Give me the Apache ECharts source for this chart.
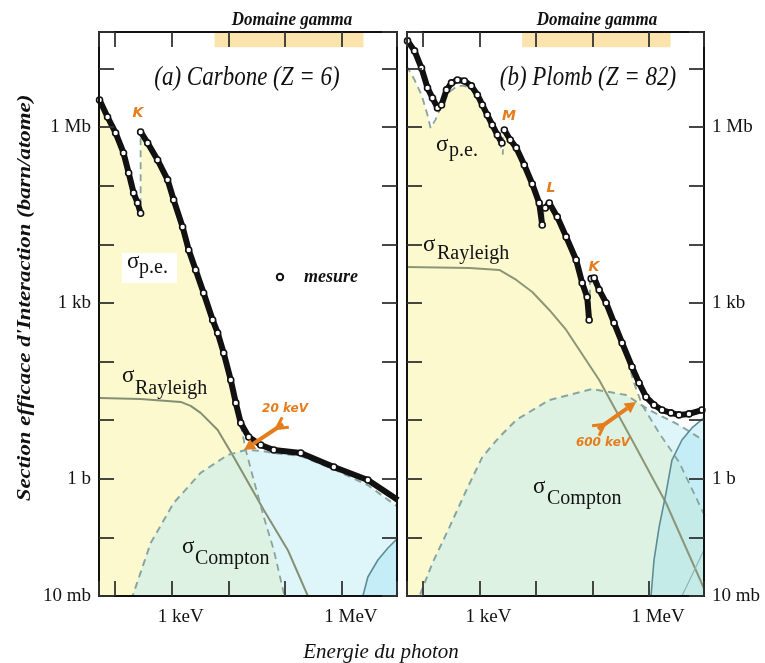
<!DOCTYPE html>
<html>
<head>
<meta charset="utf-8" />
<title>Sections efficaces photon - carbone / plomb</title>
<style>
  html, body { margin: 0; padding: 0; background: #fff; }
  #chartBox { width: 765px; height: 663px; }
</style>
</head>
<body>
<div id="chartBox"></div>
<script src="https://cdn.jsdelivr.net/npm/echarts@6.0.0/dist/echarts.min.js"></script>
<script>
// energie en eV, section efficace en barn/atome
var xRange = [52.5, 9.33e6];
var yRange = [0.01, 4.2e7];
var gammaDomain = [5700, 2.4e6];
var xTickNames = {3: '1 keV', 6: '1 MeV'};
var yTickNames = {'-2': '10 mb', 0: '1 b', 3: '1 kb', 6: '1 Mb'};

// (a) carbone
var cMesureBas = [[53.7, 2.91e6], [74.3, 1.49e6], [103, 7.96e5], [142, 3.63e5], [175, 1.65e5], [214, 7.5e4], [251, 5.1e4], [284, 3.4e4]];
var cMesureHaut = [[284, 8.28e5], [378, 5.37e5], [566, 2.75e5], [850, 1.26e5], [1085, 5.73e4], [1560, 1.98e4], [2000, 8.0e3],
  [2650, 3.66e3], [3660, 1.48e3], [5280, 513], [6470, 308], [8260, 140], [11000, 48.5], [13500, 19.7], [16500, 8.95],
  [22800, 5.16], [37100, 3.78], [63000, 3.10], [188000, 2.75], [720000, 1.59], [2.86e6, 0.955], [9.68e6, 0.435]];
var cPhoto = [[53.7, 2.91e6], [74.3, 1.49e6], [103, 7.96e5], [142, 3.63e5], [175, 1.65e5], [214, 7.5e4], [251, 5.1e4], [284, 3.2e4],
  [284, 8.28e5], [378, 5.37e5], [566, 2.75e5], [850, 1.26e5], [1085, 5.73e4], [1560, 1.98e4], [2000, 8.0e3], [2650, 3.66e3],
  [3660, 1.48e3], [5280, 513], [6470, 308], [8260, 140], [11000, 48.5], [13500, 19.7], [16500, 8.3], [20200, 3.1],
  [27900, 0.955], [42000, 0.223], [63000, 0.061], [94400, 0.0112], [107000, 0.007]];
var cCompton = [[175, 0.0054], [205, 0.01], [427, 0.080], [1085, 0.386], [3240, 1.26], [9730, 2.55], [20200, 3.10],
  [37100, 3.0], [63000, 2.75], [188000, 2.45], [720000, 1.45], [2.86e6, 0.78], [9.68e6, 0.33]];
var cRayleigh = [[53.7, 23.9], [284, 23.0], [1440, 20.5], [2160, 17.5], [3240, 13.3], [6470, 6.81], [12400, 2.36],
  [42000, 0.294], [111000, 0.061], [251000, 0.01], [282000, 0.0076]];
var cPaire = [[2.15e6, 0.007], [2.34e6, 0.01], [2.86e6, 0.0211], [4.30e6, 0.0411], [6.46e6, 0.0659], [9.68e6, 0.0977]];

// (b) plomb
var pbMesure1 = [[53.7, 2.96e7], [71.4, 2.0e7], [94.8, 1.02e7], [121, 4.67e6], [148, 3.15e6], [182, 2.13e6], [214, 2.39e6],
  [262, 4.32e6], [321, 5.68e6], [409, 6.38e6], [543, 6.14e6], [722, 5.05e6], [922, 3.54e6], [1130, 2.39e6], [1380, 1.61e6],
  [1690, 1.09e6], [2080, 7.36e5], [2500, 5.37e5]];
var pbMesure2 = [[2760, 8.95e5], [3520, 6.05e5], [4500, 4.42e5], [6220, 2.26e5], [8610, 1.07e5], [11400, 5.08e4], [12900, 2.14e4]];
var pbMesure3 = [[14600, 4.18e4], [17200, 5.08e4], [23800, 2.94e4], [34200, 1.34e4], [51400, 5420], [65600, 2190],
  [80300, 1260], [87100, 513]];
var pbMesure4 = [[94500, 2600], [107000, 2670], [131000, 1670], [174000, 1000], [240000, 456], [333000, 208], [499000, 80.9],
  [664000, 43.2], [881000, 24.9], [1.22e6, 18.2], [1.69e6, 14.9], [2.43e6, 13.3], [3.37e6, 12.3], [5.06e6, 12.8], [8.57e6, 14.9]];
var pbPhoto = [[51.6, 1.11e7], [71.4, 6.38e6], [94.8, 3.54e6], [121, 1.61e6], [137, 9.68e5], [167, 1.33e6], [214, 2.39e6],
  [296, 3.99e6], [409, 5.05e6], [543, 5.05e6], [722, 4.49e6], [922, 3.27e6], [1220, 2.13e6], [1690, 1.09e6], [2250, 6.05e5],
  [2600, 3.4e5], [2600, 8.9e5], [3520, 6.0e5], [4500, 4.4e5], [6220, 2.2e5], [8610, 1.05e5], [11400, 5.0e4], [13500, 1.9e4],
  [13500, 4.1e4], [17200, 5.0e4], [23800, 2.9e4], [34200, 1.3e4], [51400, 5300], [65600, 2150], [80300, 1230], [90000, 480],
  [90000, 2600], [131000, 1650], [174000, 980], [240000, 450], [333000, 205], [392000, 130], [542000, 43], [750000, 18.2],
  [1.5e6, 6.05], [3.37e6, 1.94], [8.93e6, 0.271], [1.05e7, 0.198]];
var pbCompton = [[77.4, 0.0068], [87.5, 0.01], [148, 0.0366], [296, 0.150], [590, 0.644], [1130, 2.36], [2250, 5.16],
  [4500, 10.1], [17200, 22.1], [98400, 34.0], [392000, 26.9], [1e6, 14.9], [3.37e6, 8.28], [8.93e6, 4.59]];
var pbRayleigh = [[51.6, 4110], [667, 3950], [2250, 3660], [4500, 2470], [8610, 1540], [17200, 760], [34200, 346],
  [131000, 48.5], [499000, 4.59], [1.99e6, 0.386], [7.59e6, 0.0211], [1.05e7, 0.0104]];
var pbPaire = [[1.06e6, 0.0068], [1.08e6, 0.01], [1.22e6, 0.0411], [1.50e6, 0.150], [1.99e6, 0.573], [2.53e6, 2.09],
  [3.80e6, 4.59], [5.71e6, 7.36], [9.29e6, 10.9]];
var pbPaireElec = [[3.66e6, 0.0068], [3.80e6, 0.01], [6.71e6, 0.0313], [9.29e6, 0.061]];

var serif = '"Liberation Serif", "DejaVu Serif", serif';
var orange = '#e57d1c';

function logLabel(names) {
  return function (v) {
    var l = Math.log10(v), k = Math.round(l);
    if (Math.abs(l - k) > 0.01) return '';
    return names[k] || '';
  };
}

function makeX(grid, pos, showLabel) {
  return {
    type: 'log', gridIndex: grid, position: pos, min: xRange[0], max: xRange[1], z: 10,
    axisLine: { show: true, onZero: false, lineStyle: { color: '#111', width: 2 } },
    axisTick: { show: true, inside: true, length: 15, lineStyle: { color: '#333', width: 1.8 } },
    axisLabel: { show: showLabel, formatter: logLabel(xTickNames), color: '#111', fontFamily: serif, fontSize: 19,
      margin: 12, padding: [0, 0, 0, 18] },
    splitLine: { show: false }
  };
}

function makeY(grid, pos, showLabel) {
  return {
    type: 'log', gridIndex: grid, position: pos, min: yRange[0], max: yRange[1], z: 10,
    axisLine: { show: true, onZero: false, lineStyle: { color: '#111', width: 2 } },
    axisTick: { show: true, inside: true, length: 15, lineStyle: { color: '#333', width: 1.8 } },
    axisLabel: { show: showLabel, formatter: logLabel(yTickNames), color: '#111', fontFamily: serif, fontSize: 19, margin: 8 },
    splitLine: { show: false }
  };
}

function fill(data, ax, color, band) {
  var s = {
    type: 'line', xAxisIndex: ax, yAxisIndex: ax, data: data, symbol: 'none', silent: true, z: 1,
    lineStyle: { width: 0, opacity: 0 },
    areaStyle: { color: color, opacity: 1, origin: 'start' }
  };
  if (band) {
    s.markArea = { silent: true, itemStyle: { color: '#fbe3ad' },
      data: [[{ xAxis: gammaDomain[0], yAxis: 2.3e7 }, { xAxis: gammaDomain[1], yAxis: yRange[1] }]] };
  }
  return s;
}

function curve(data, ax, color, width, type) {
  return {
    type: 'line', xAxisIndex: ax, yAxisIndex: ax, data: data, symbol: 'none', silent: true, z: 3,
    lineStyle: { color: color, width: width, type: type || 'solid' }
  };
}

function mesure(data, ax) {
  return {
    type: 'line', xAxisIndex: ax, yAxisIndex: ax, data: data, symbol: 'circle', symbolSize: 6, showSymbol: true, z: 5,
    itemStyle: { color: '#fff', borderColor: '#111', borderWidth: 1.6 },
    lineStyle: { color: '#111', width: 6 }
  };
}

function txt(x, y, s, font, extra) {
  var el = { type: 'text', x: x, y: y, z: 100,
    style: { text: s, font: font, fill: '#111', align: 'left', verticalAlign: 'middle' } };
  for (var k in extra) {
    if (k === 'style') { for (var j in extra.style) el.style[j] = extra.style[j]; }
    else el[k] = extra[k];
  }
  return el;
}

function sigma(x, y, sub, x2, y2) {
  return [
    txt(x, y, 'σ', '23px ' + serif),
    txt(x2, y2, sub, '20px ' + serif)
  ];
}

function arrow(t, h) {
  var dx = h[0] - t[0], dy = h[1] - t[1], len = Math.sqrt(dx * dx + dy * dy);
  var ux = dx / len, uy = dy / len, px = -uy, py = ux;
  var bx = h[0] - 11 * ux, by = h[1] - 11 * uy;
  return [
    { type: 'polyline', z: 100, shape: { points: [t, [bx, by]] }, style: { stroke: orange, lineWidth: 4 } },
    { type: 'polygon', z: 100, shape: { points: [h, [bx + 6 * px, by + 6 * py], [bx - 6 * px, by - 6 * py]] }, style: { fill: orange } },
    { type: 'polyline', z: 100, shape: { points: [[t[0] - 3 * ux + 6 * px, t[1] - 3 * uy + 6 * py], [t[0] + 8 * ux, t[1] + 8 * uy],
      [t[0] - 3 * ux - 6 * px, t[1] - 3 * uy - 6 * py]] }, style: { stroke: orange, lineWidth: 3, fill: null } }
  ];
}

var chart = echarts.init(document.getElementById('chartBox'));

var titleFont = 'italic 23px ' + serif;
var gammaFont = 'italic bold 17px ' + serif;
var edgeFont = 'italic bold 14px "DejaVu Sans", sans-serif';
var keVFont = 'italic bold 12px "DejaVu Sans", sans-serif';

var graphics = [
  { type: 'rect', z: 99, shape: { x: 122, y: 253, width: 55, height: 30 }, style: { fill: '#fff' } },
  txt(292, 20, 'Domaine gamma', gammaFont, { style: { align: 'center' }, scaleY: 1.1 }),
  txt(597, 20, 'Domaine gamma', gammaFont, { style: { align: 'center' }, scaleY: 1.1 }),
  txt(247, 78, '(a) Carbone (Z = 6)', titleFont, { style: { align: 'center' }, scaleY: 1.15 }),
  txt(588, 78, '(b) Plomb (Z = 82)', titleFont, { style: { align: 'center' }, scaleY: 1.15 }),
  { type: 'circle', z: 100, shape: { cx: 280, cy: 277, r: 3.2 }, style: { fill: '#fff', stroke: '#111', lineWidth: 2 } },
  txt(304, 277, 'mesure', 'italic bold 18px ' + serif),
  txt(138, 113, 'K', edgeFont, { style: { align: 'center', fill: orange } }),
  txt(509, 116, 'M', edgeFont, { style: { align: 'center', fill: orange } }),
  txt(551, 188, 'L', edgeFont, { style: { align: 'center', fill: orange } }),
  txt(594, 267, 'K', edgeFont, { style: { align: 'center', fill: orange } }),
  txt(285, 409, '20 keV', keVFont, { style: { align: 'center', fill: orange } }),
  txt(603, 443, '600 keV', keVFont, { style: { align: 'center', fill: orange } }),
  txt(25, 298, "Section efficace d'Interaction (barn/atome)", 'italic bold 18px ' + serif,
    { style: { align: 'center' }, rotation: Math.PI / 2, scaleX: 1.27 }),
  txt(381, 652, 'Energie du photon', 'italic 21px ' + serif, { style: { align: 'center' } })
];
graphics = graphics
  .concat(sigma(127, 262, 'p.e.', 139, 268))
  .concat(sigma(122, 376, 'Rayleigh', 135, 389))
  .concat(sigma(182, 547, 'Compton', 195, 559))
  .concat(sigma(436, 145, 'p.e.', 449, 151))
  .concat(sigma(423, 245, 'Rayleigh', 437, 254))
  .concat(sigma(533, 487, 'Compton', 547, 499))
  .concat(arrow([283, 424], [244, 450]))
  .concat(arrow([598, 429], [636, 402]));

var option = {
  animation: false,
  backgroundColor: '#fff',
  grid: [
    { left: 99, top: 32, width: 298, height: 564 },
    { left: 407, top: 32, width: 297, height: 564 }
  ],
  xAxis: [makeX(0, 'bottom', true), makeX(0, 'top', false), makeX(1, 'bottom', true), makeX(1, 'top', false)],
  yAxis: [makeY(0, 'left', true), makeY(0, 'right', false), makeY(1, 'right', true), makeY(1, 'left', false)],
  series: [
    fill(cPhoto, 0, '#fcf9cf', true),
    fill(cCompton, 0, 'rgba(190,236,246,0.5)'),
    fill(cPaire, 0, 'rgba(160,225,243,0.4)'),
    curve(cRayleigh, 0, '#858f72', 2),
    curve(cCompton, 0, '#87a5a2', 2, [7, 5]),
    curve(cPhoto, 0, '#8aa39c', 1.8, [7, 5]),
    curve(cPaire, 0, '#5d8c95', 1.6),
    mesure(cMesureBas, 0),
    mesure(cMesureHaut, 0),

    fill(pbPhoto, 2, '#fcf9cf', true),
    fill(pbCompton, 2, 'rgba(190,236,246,0.5)'),
    fill(pbPaire, 2, 'rgba(160,225,243,0.4)'),
    curve(pbRayleigh, 2, '#8d9577', 2),
    curve(pbCompton, 2, '#87a5a2', 2, [7, 5]),
    curve(pbPhoto, 2, '#8aa39c', 1.8, [7, 5]),
    curve(pbPaire, 2, '#5d8c95', 1.6),
    curve(pbPaireElec, 2, '#8fb3b8', 1.2),
    mesure(pbMesure1, 2),
    mesure(pbMesure2, 2),
    mesure(pbMesure3, 2),
    mesure(pbMesure4, 2)
  ],
  graphic: { elements: graphics }
};

chart.setOption(option);
</script>
</body>
</html>
